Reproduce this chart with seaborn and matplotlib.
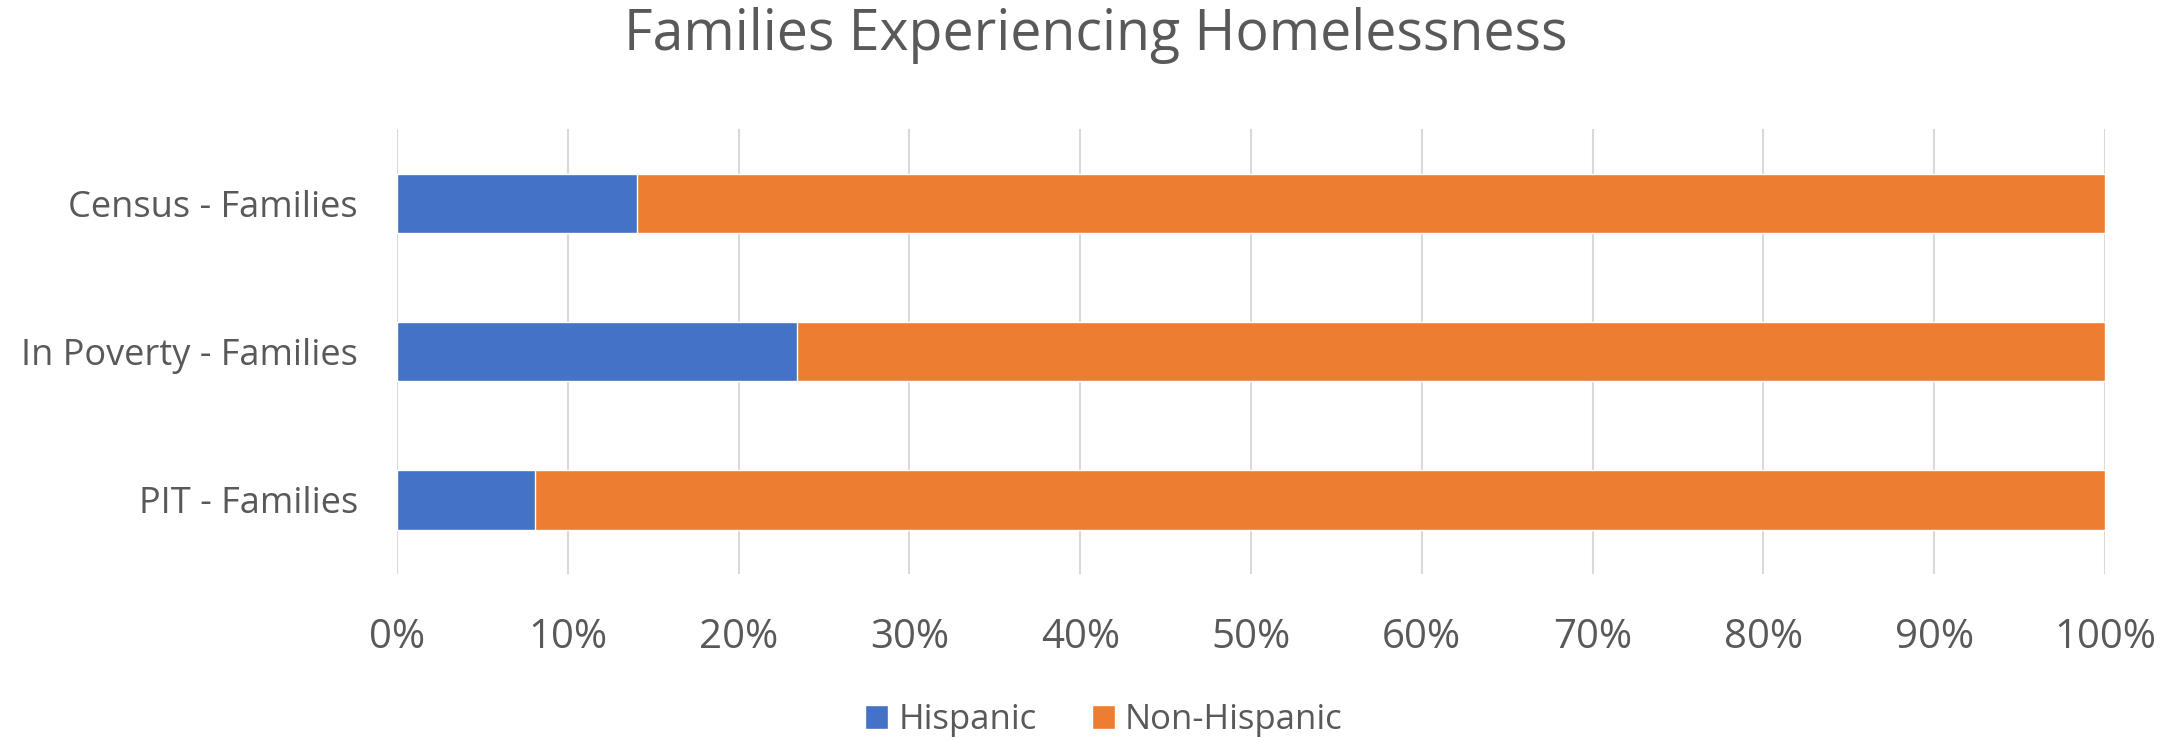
import matplotlib
matplotlib.use("Agg")
import matplotlib.pyplot as plt
import seaborn as sns
import pandas as pd
from matplotlib.patches import Patch
from matplotlib.ticker import PercentFormatter

categories = ["Census - Families", "In Poverty - Families", "PIT - Families"]
hispanic = [14.05, 23.4, 8.1]
non_hispanic = [100 - v for v in hispanic]
series_names = ["Hispanic", "Non-Hispanic"]
xticks = [0, 10, 20, 30, 40, 50, 60, 70, 80, 90, 100]

BLUE = "#4472C4"
ORANGE = "#ED7D31"
TEXT = "#595959"

sns.set_theme(style="white")
plt.rcParams["font.family"] = ["Open Sans", "DejaVu Sans"]

df = pd.DataFrame({
    "category": categories,
    "Hispanic": hispanic,
    "NonHispanic": non_hispanic,
})
df["total"] = df["Hispanic"] + df["NonHispanic"]

fig = plt.figure(figsize=(21.69, 7.41), dpi=100)
ax = fig.add_axes([397 / 2169, 1 - 574 / 741, (2105 - 397) / 2169, (574 - 129) / 741])

sns.barplot(data=df, y="category", x="total", color=ORANGE, orient="h",
            width=0.4, ax=ax, saturation=1, order=categories)
sns.barplot(data=df, y="category", x="Hispanic", color=BLUE, orient="h",
            width=0.4, ax=ax, saturation=1, order=categories)

ax.set_xlim(0, 100)
ax.set_ylim(2.5, -0.5)
ax.set_xticks(xticks)
ax.xaxis.set_major_formatter(PercentFormatter(decimals=0))
ax.grid(axis="x", color="#D9D9D9", linewidth=1.5)
ax.set_axisbelow(True)
for s in ax.spines.values():
    s.set_visible(False)
ax.set_xlabel("")
ax.set_ylabel("")
ax.tick_params(axis="both", length=0, labelcolor=TEXT)
ax.tick_params(axis="x", pad=31, labelsize=29)
ax.tick_params(axis="y", pad=28, labelsize=26)

fig.suptitle("Families Experiencing Homelessness", x=0.505, y=1 - 35 / 741,
             fontsize=40, color=TEXT, va="center")

handles = [Patch(facecolor=BLUE, label=series_names[0]),
           Patch(facecolor=ORANGE, label=series_names[1])]
fig.legend(handles=handles, loc="center", bbox_to_anchor=(0.509, 0.028),
           ncol=2, frameon=False, fontsize=25, labelcolor=TEXT,
           handlelength=0.65, handleheight=0.65, handletextpad=0.3,
           columnspacing=1.6)

fig.savefig("out.png", dpi=100)
